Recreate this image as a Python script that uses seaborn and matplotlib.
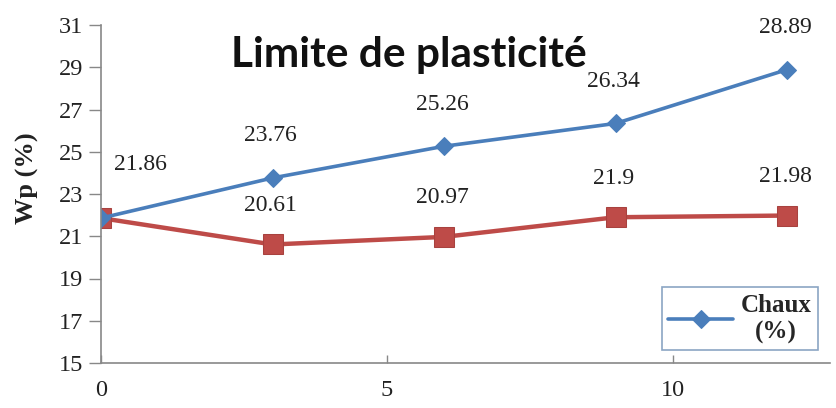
import matplotlib
matplotlib.use("Agg")
import matplotlib.pyplot as plt
import seaborn as sns
import pandas as pd

x_vals = [0, 3, 6, 9, 12]
chaux = [21.86, 23.76, 25.26, 26.34, 28.89]
other = [21.86, 20.61, 20.97, 21.9, 21.98]
chaux_labels = ["21.86", "23.76", "25.26", "26.34", "28.89"]
other_labels = ["", "20.61", "20.97", "21.9", "21.98"]
y_ticks = [15, 17, 19, 21, 23, 25, 27, 29, 31]
x_ticks = [0, 5, 10]

sns.set_theme(style="white")
plt.rcParams["font.family"] = ["Liberation Serif", "DejaVu Serif"]

df_a = pd.DataFrame({"x": x_vals, "y": chaux})
df_b = pd.DataFrame({"x": x_vals, "y": other})

fig = plt.figure(figsize=(8.36, 4.08), dpi=100)
ax = fig.add_axes([101/836, (408-363)/408, (830-101)/836, (363-25)/408])

blue = "#4A7EBB"
red = "#BE4B48"
sns.lineplot(data=df_b, x="x", y="y", ax=ax, color=red, lw=3.2, marker="s",
             markersize=14, markeredgecolor="#A8423F", legend=False)
sns.lineplot(data=df_a, x="x", y="y", ax=ax, color=blue, lw=2.6, marker="D",
             markersize=9, markeredgecolor=blue, label="Chaux\n(%)")

for xv, yv, t in zip(x_vals, chaux, chaux_labels):
    if xv == 0:
        off = (39, 54)
    else:
        off = (-2, 42)
    ax.annotate(t, (xv, yv), xytext=off, textcoords="offset pixels",
                ha="center", va="center", fontsize=17, color="#222222")
for xv, yv, t in zip(x_vals, other, other_labels):
    if t:
        ax.annotate(t, (xv, yv), xytext=(-2, 39), textcoords="offset pixels",
                    ha="center", va="center", fontsize=17, color="#222222")

ax.set_xlim(0, 12.75)
ax.set_ylim(15, 31)
ax.set_yticks(y_ticks)
ax.set_xticks(x_ticks)
ax.tick_params(axis="y", labelsize=17.5, length=9, width=1, color="#888888",
               direction="out", left=True, pad=4, labelcolor="#222222")
ax.tick_params(axis="x", labelsize=17.5, length=6, width=1, color="#888888",
               direction="in", bottom=True, pad=12, labelcolor="#222222")
for s in ["top", "right"]:
    ax.spines[s].set_visible(False)
for s in ["left", "bottom"]:
    ax.spines[s].set_color("#888888")
    ax.spines[s].set_linewidth(1.2)
ax.set_xlabel("")
ax.set_ylabel("Wp (%)", fontsize=19, fontweight="bold", color="#222222")
ax.yaxis.set_label_coords(-62/729, (363-178)/338)

fig.text(409/836, 1 - 55/408, "Limite de plasticité", ha="center", va="center",
         fontsize=30.5, fontweight="bold", family=["Lato", "DejaVu Sans"], color="#111111")

leg = ax.legend(loc="lower right", bbox_to_anchor=((818-101)/729, (363-350)/338),
                frameon=True, fancybox=False, edgecolor="#6E8FB5",
                prop={"family": "Liberation Serif", "weight": "bold", "size": 18},
                handlelength=2.6, handletextpad=0.3, borderpad=0.25, borderaxespad=0)
leg.get_frame().set_linewidth(1.2)
for t in leg.get_texts():
    t.set_multialignment("center")

fig.savefig("out.png", dpi=100, facecolor="white")
